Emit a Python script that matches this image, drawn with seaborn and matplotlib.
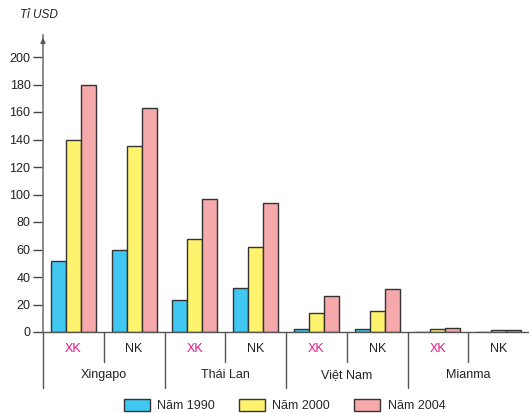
import matplotlib
matplotlib.use("Agg")
import matplotlib.pyplot as plt
import seaborn as sns
import pandas as pd
from matplotlib.patches import Patch

countries = ["Xingapo", "Thái Lan", "Việt Nam", "Mianma"]
flows = ["XK", "NK"]
years = ["Năm 1990", "Năm 2000", "Năm 2004"]
# values per sub-category (Xingapo XK, Xingapo NK, Thai XK, Thai NK, VN XK, VN NK, Mianma XK, Mianma NK)
v1990 = [52, 60, 23, 32, 2, 2, 0.3, 0.3]
v2000 = [140, 135, 68, 62, 14, 15, 2, 1.5]
v2004 = [180, 163, 97, 94, 26, 31, 2.7, 1.5]
yticks = [0, 20, 40, 60, 80, 100, 120, 140, 160, 180, 200]

colors = ["#40C8F2", "#FFF36E", "#F5A9AA"]

subcats = [f"{c}|{f}" for c in countries for f in flows]
rows = []
for yr, vals in zip(years, [v1990, v2000, v2004]):
    for sc, v in zip(subcats, vals):
        rows.append({"sub": sc, "year": yr, "value": v})
df = pd.DataFrame(rows)

sns.set_theme(style="white")
plt.rcParams["font.family"] = ["Liberation Sans", "DejaVu Sans"]

W, H = 529, 413
fig = plt.figure(figsize=(W / 100, H / 100), dpi=100)
x0, x1 = 43, 529
y_zero, y_top = 332, 35
ax = fig.add_axes([x0 / W, (H - y_zero) / H, (x1 - x0) / W, (y_zero - y_top) / H])

sns.barplot(data=df, x="sub", y="value", hue="year", order=subcats,
            hue_order=years, palette=colors, width=0.74, saturation=1,
            edgecolor="#333333", linewidth=1.0, ax=ax, legend=False)

ymax = (y_zero - y_top) / 1.375
ax.set_ylim(0, ymax)
ax.set_xlim(-0.5, len(subcats) - 0.5)
ax.set_yticks(yticks)
ax.set_yticklabels([str(t) for t in yticks], fontsize=9, color="#222222")
ax.set_xticks([])
ax.set_xlabel("")
ax.set_ylabel("")
for s in ["top", "right"]:
    ax.spines[s].set_visible(False)
ax.spines["left"].set_color("#777777")
ax.spines["left"].set_linewidth(1.2)
ax.spines["bottom"].set_color("#555555")
ax.spines["bottom"].set_linewidth(1.0)
ax.tick_params(axis="y", which="major", direction="out", length=7, width=1,
               color="#444444", pad=2, left=True)

# arrow at top of y axis
ax.annotate("", xy=(0, 1.0), xycoords="axes fraction", xytext=(0, 0.96),
            arrowprops=dict(arrowstyle="-|>", color="#555555", lw=1.0,
                            mutation_scale=7), annotation_clip=False)

# unit label
fig.text(20 / W, 1 - 15 / H, "Tỉ USD", fontsize=8.5, style="italic",
         color="#222222", ha="left", va="center")

# category separators and labels
tr = ax.get_xaxis_transform()
def ypix(p):
    return -(p - y_zero) / (y_zero - y_top)

for i in range(len(subcats)):
    xb = i - 0.5
    yend = ypix(388) if i % 2 == 0 else ypix(362)
    ax.plot([xb, xb], [0, yend], transform=tr, color="#555555", lw=1.0,
            clip_on=False)

for i, sc in enumerate(subcats):
    f = sc.split("|")[1]
    ax.text(i, ypix(349), f, transform=tr, ha="center", va="center",
            fontsize=9, color="#E6158C" if f == "XK" else "#222222")
for j, c in enumerate(countries):
    ax.text(2 * j + 0.5, ypix(375), c, transform=tr, ha="center",
            va="center", fontsize=9, color="#222222")

handles = [Patch(facecolor=col, edgecolor="#333333", linewidth=1.0, label=yr)
           for col, yr in zip(colors, years)]
fig.legend(handles=handles, loc="upper center",
           bbox_to_anchor=(0.5 + 20 / W, (H - 399) / H), ncol=3, frameon=False,
           fontsize=9, handlelength=2.1, handleheight=1.1, handletextpad=0.6,
           columnspacing=1.9, borderaxespad=0, borderpad=0)

fig.savefig("out.png", dpi=100)
